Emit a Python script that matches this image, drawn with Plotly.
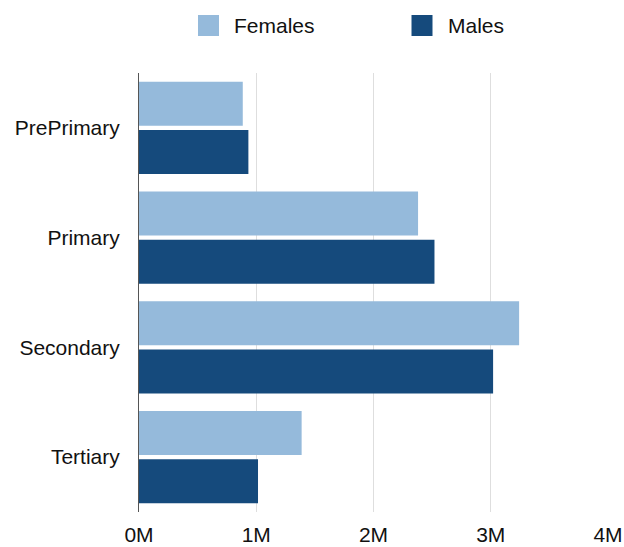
import plotly.graph_objects as go

categories = ["PrePrimary", "Primary", "Secondary", "Tertiary"]
females = [885000, 2380000, 3242000, 1387000]
males = [933000, 2520000, 3020000, 1015000]
series_names = ["Females", "Males"]
series_colors = ["#95badb", "#154a7c"]
tick_vals = [0, 1000000, 2000000, 3000000, 4000000]
tick_text = ["0M", "1M", "2M", "3M", "4M"]

FONT = "Liberation Sans, Arial, Helvetica, sans-serif"
W, H = 624, 547
ML, MR, MT, MB = 139, 16, 73, 35
PW, PH = W - ML - MR, H - MT - MB


def px_x(px):
    return (px - ML) / PW


def px_y(py):
    return (H - MB - py) / PH


fig = go.Figure()
for name, vals, col in zip(series_names, [females, males], series_colors):
    fig.add_trace(go.Bar(name=name, y=categories, x=vals, orientation="h",
                         marker=dict(color=col, line=dict(width=0)),
                         showlegend=False))

# legend drawn as swatches + labels
legend_swatch_left = [198, 411.5]
for name, col, sx in zip(series_names, series_colors, legend_swatch_left):
    fig.add_shape(type="rect", xref="paper", yref="paper",
                  x0=px_x(sx), x1=px_x(sx + 21), y0=px_y(36), y1=px_y(15),
                  fillcolor=col, line=dict(width=0))
    fig.add_annotation(xref="paper", yref="paper", x=px_x(sx + 34), y=px_y(25.5),
                       xanchor="left", yanchor="middle", text=name, showarrow=False,
                       font=dict(family=FONT, size=21, color="#111111"))

fig.update_layout(
    width=W, height=H,
    margin=dict(l=ML, r=MR, t=MT, b=MB, pad=0),
    paper_bgcolor="white", plot_bgcolor="white",
    barmode="group", bargap=0.122, bargroupgap=0.09,
    font=dict(family=FONT, size=21, color="#111111"),
    showlegend=False,
    xaxis=dict(range=[0, 4000000], tickvals=tick_vals, ticktext=tick_text,
               showgrid=True, gridcolor="#dedede", gridwidth=1, zeroline=False,
               showline=False, ticks="", ticklabelstandoff=8, fixedrange=True,
               automargin=False),
    yaxis=dict(autorange="reversed", showgrid=False, zeroline=False,
               showline=True, linecolor="#555555", linewidth=1,
               ticks="", ticklabelstandoff=14, fixedrange=True, automargin=False),
)

fig.write_html("out.html")
